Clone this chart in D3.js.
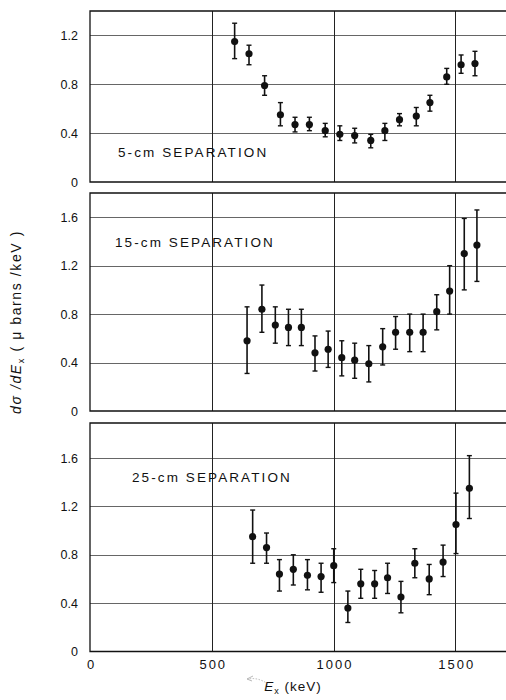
<!DOCTYPE html>
<html lang="en">
<head>
    <meta charset="UTF-8">
    <title>Cross section vs Ex</title>
    <style>
        body { margin: 0; background: #fff; }
        text { font-family: "Liberation Sans", "DejaVu Sans", sans-serif; fill: #111; }
    </style>
</head>
<body>
<svg></svg>
<script src="https://d3js.org/d3.v7.min.js"></script>
<script>
    // 5-cm separation
    var ex5 = [594, 653, 717, 782, 842, 901, 966, 1026, 1087, 1153, 1211, 1271, 1340, 1396, 1465, 1524, 1581];
    var val5 = [1.15, 1.05, 0.79, 0.55, 0.47, 0.47, 0.42, 0.39, 0.38, 0.34, 0.42, 0.51, 0.54, 0.65, 0.86, 0.96, 0.97];
    var hi5 = [1.30, 1.12, 0.87, 0.65, 0.53, 0.53, 0.48, 0.46, 0.44, 0.39, 0.48, 0.56, 0.61, 0.71, 0.93, 1.04, 1.07];
    var lo5 = [1.01, 0.96, 0.71, 0.46, 0.41, 0.42, 0.37, 0.34, 0.32, 0.28, 0.34, 0.46, 0.46, 0.58, 0.80, 0.89, 0.87];

    // 15-cm separation
    var ex15 = [645, 706, 761, 815, 868, 924, 978, 1034, 1087, 1145, 1202, 1255, 1313, 1368, 1424, 1477, 1537, 1589];
    var val15 = [0.58, 0.84, 0.71, 0.69, 0.69, 0.48, 0.51, 0.44, 0.42, 0.39, 0.53, 0.65, 0.65, 0.65, 0.82, 0.99, 1.30, 1.37];
    var hi15 = [0.86, 1.04, 0.86, 0.84, 0.84, 0.62, 0.66, 0.58, 0.56, 0.54, 0.68, 0.78, 0.80, 0.80, 0.96, 1.20, 1.59, 1.66];
    var lo15 = [0.31, 0.65, 0.56, 0.54, 0.54, 0.33, 0.36, 0.29, 0.27, 0.24, 0.38, 0.51, 0.49, 0.49, 0.67, 0.80, 1.00, 1.07];

    // 25-cm separation
    var ex25 = [668, 725, 778, 835, 893, 949, 1001, 1059, 1112, 1169, 1222, 1277, 1334, 1393, 1450, 1503, 1558];
    var val25 = [0.95, 0.86, 0.64, 0.68, 0.63, 0.62, 0.71, 0.36, 0.56, 0.56, 0.61, 0.45, 0.73, 0.60, 0.74, 1.05, 1.35];
    var hi25 = [1.17, 0.98, 0.76, 0.80, 0.76, 0.73, 0.85, 0.50, 0.68, 0.67, 0.73, 0.58, 0.85, 0.72, 0.88, 1.31, 1.62];
    var lo25 = [0.73, 0.73, 0.50, 0.55, 0.51, 0.49, 0.57, 0.24, 0.44, 0.44, 0.48, 0.32, 0.61, 0.47, 0.62, 0.81, 1.10];

    var xTicks = [0, 500, 1000, 1500];
    var yTicks5 = [0, 0.4, 0.8, 1.2];
    var yTicks = [0, 0.4, 0.8, 1.2, 1.6];
    var labels = ["5-cm SEPARATION", "15-cm SEPARATION", "25-cm SEPARATION"];

    var width = 506;
    var height = 700;
    var left = 90;
    var right = 506;

    var svg = d3.select("svg")
        .attr("width", width)
        .attr("height", height);

    var xScale = d3.scaleLinear().domain([0, 1700]).range([left, left + 1700 * 0.2435]);

    var panels = [
        {ex: ex5, val: val5, hi: hi5, lo: lo5, ticks: yTicks5, top: 11, bottom: 182, max: 1.4, label: labels[0], lx: 118, ly: 157},
        {ex: ex15, val: val15, hi: hi15, lo: lo15, ticks: yTicks, top: 193, bottom: 411, max: 1.8, label: labels[1], lx: 115, ly: 247},
        {ex: ex25, val: val25, hi: hi25, lo: lo25, ticks: yTicks, top: 423, bottom: 651.5, max: 1.89, label: labels[2], lx: 132, ly: 482}
    ];

    panels.forEach(function (p, k) {
        var yScale = d3.scaleLinear().domain([0, p.max]).range([p.bottom, p.top]);
        var g = svg.append("g");

        // horizontal grid
        g.selectAll("line.hg")
            .data(p.ticks.filter(function (d) { return d > 0; }))
            .enter().append("line")
            .attr("x1", left).attr("x2", right)
            .attr("y1", function (d) { return Math.round(yScale(d)) + 0.5; })
            .attr("y2", function (d) { return Math.round(yScale(d)) + 0.5; })
            .style("stroke", "#555").style("stroke-width", 0.9);

        // vertical grid
        g.selectAll("line.vg")
            .data(xTicks.filter(function (d) { return d > 0; }))
            .enter().append("line")
            .attr("x1", function (d) { return Math.round(xScale(d)) + 0.5; })
            .attr("x2", function (d) { return Math.round(xScale(d)) + 0.5; })
            .attr("y1", p.top).attr("y2", p.bottom)
            .style("stroke", "#222").style("stroke-width", 1);

        // frame (open on right, cut by page edge)
        g.append("path")
            .attr("d", "M" + right + "," + p.top + "H" + left + "V" + p.bottom + "H" + right)
            .style("fill", "none").style("stroke", "#111").style("stroke-width", 1.3);

        // y axis labels
        var yAxis = d3.axisLeft(yScale).tickValues(p.ticks).tickSize(0).tickPadding(12)
            .tickFormat(function (d) { return d === 0 ? "0" : d3.format(".1f")(d); });
        var ya = g.append("g").attr("transform", "translate(" + left + ",0)").call(yAxis);
        ya.select(".domain").remove();
        ya.selectAll("text").style("font-size", "12.5px").style("font-family", "Liberation Sans, sans-serif");

        // error bars
        var idx = d3.range(p.ex.length);
        g.selectAll("line.eb")
            .data(idx).enter().append("line")
            .attr("x1", function (i) { return xScale(p.ex[i]); })
            .attr("x2", function (i) { return xScale(p.ex[i]); })
            .attr("y1", function (i) { return yScale(p.hi[i]); })
            .attr("y2", function (i) { return yScale(p.lo[i]); })
            .style("stroke", "#111").style("stroke-width", 1.6);
        ["hi", "lo"].forEach(function (key) {
            g.selectAll("line.cap" + key)
                .data(idx).enter().append("line")
                .attr("x1", function (i) { return xScale(p.ex[i]) - 2.5; })
                .attr("x2", function (i) { return xScale(p.ex[i]) + 2.5; })
                .attr("y1", function (i) { return yScale(p[key][i]); })
                .attr("y2", function (i) { return yScale(p[key][i]); })
                .style("stroke", "#111").style("stroke-width", 1.4);
        });
        g.selectAll("circle")
            .data(idx).enter().append("circle")
            .attr("cx", function (i) { return xScale(p.ex[i]); })
            .attr("cy", function (i) { return yScale(p.val[i]); })
            .attr("r", 3.6)
            .style("fill", "#111");

        g.append("text")
            .attr("x", p.lx).attr("y", p.ly)
            .style("font-size", "13.5px")
            .style("letter-spacing", "2.1px")
            .text(p.label);
    });

    // x axis labels
    var xAxis = d3.axisBottom(xScale).tickValues(xTicks).tickSize(0).tickPadding(8)
        .tickFormat(d3.format("d"));
    var xa = svg.append("g").attr("transform", "translate(0,651.5)").call(xAxis);
    xa.select(".domain").remove();
    xa.selectAll("text").style("font-size", "13px").style("letter-spacing", "2px")
        .attr("dx", 1).style("font-family", "Liberation Sans, sans-serif");

    // axis titles
    var yt = svg.append("text")
        .attr("transform", "translate(21,322) rotate(-90)")
        .attr("text-anchor", "middle")
        .style("font-size", "14px")
        .style("letter-spacing", "1.6px");
    yt.append("tspan").style("font-style", "italic").text("d\u03c3 /dE");
    yt.append("tspan").attr("dy", 3).style("font-size", "9px").text("x");
    yt.append("tspan").attr("dy", -3).text(" ( \u03bc barns /keV )");

    var xt = svg.append("text")
        .attr("x", 293).attr("y", 691)
        .attr("text-anchor", "middle")
        .style("font-size", "13.5px")
        .style("letter-spacing", "1px");
    xt.append("tspan").style("font-style", "italic").text("E");
    xt.append("tspan").attr("dy", 3).style("font-size", "9px").text("x");
    xt.append("tspan").attr("dy", -3).text(" (keV)");

    // faint pencil arrow near x title
    svg.append("path")
        .attr("d", "M268,684 Q258,677 248,679")
        .style("fill", "none").style("stroke", "#999").style("stroke-width", 0.7).style("stroke-dasharray", "1.5,1.5");
    svg.append("path")
        .attr("d", "M253,676 L247,679 L252,681")
        .style("fill", "none").style("stroke", "#999").style("stroke-width", 0.7);
</script>
</body>
</html>
